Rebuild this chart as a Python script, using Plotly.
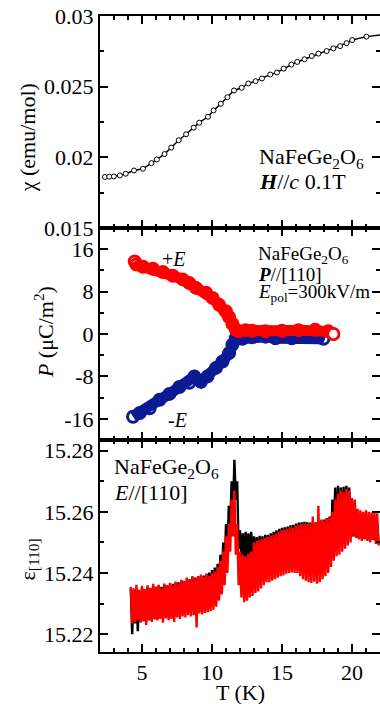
import plotly.graph_objects as go
from plotly.subplots import make_subplots

# ---------------- data ----------------
# top panel: susceptibility chi(T)
chi_T = [2.35, 2.66, 2.99, 3.42, 3.84, 4.43, 5.07, 5.67, 6.06, 6.61, 7.09, 7.62, 8.15,
         8.69, 9.09, 9.71, 10.11, 10.63, 11.10, 11.57, 12.12, 12.59, 13.11, 13.57, 14.16,
         14.64, 15.12, 15.67, 16.09, 16.61, 17.13, 17.60, 18.19, 18.67, 19.15, 19.61,
         20.01, 21.03]
chi_vals = [0.01861, 0.01863, 0.01865, 0.01872, 0.01884, 0.01907, 0.01919, 0.01959,
            0.01985, 0.02023, 0.02069, 0.02121, 0.02163, 0.02210, 0.02245, 0.02287,
            0.02332, 0.02379, 0.02426, 0.02473, 0.02492, 0.02523, 0.02539, 0.02558,
            0.02586, 0.02600, 0.02628, 0.02656, 0.02675, 0.02694, 0.02717, 0.02734,
            0.02752, 0.02771, 0.02787, 0.02808, 0.02830, 0.02854]
chi_tail_T = [21.03, 22.0]
chi_tail_vals = [0.02854, 0.02866]

# middle panel: polarization P(T)
Pplus_T = [4.48, 4.60, 5.07, 5.78, 6.49, 7.20, 7.91, 8.38, 8.86, 9.57, 10.04, 10.51,
           10.99, 11.22, 11.46, 11.70, 11.93, 12.40, 12.87, 13.82, 15.00, 16.18, 17.37,
           18.31, 18.67]
Pplus_vals = [13.7, 13.1, 12.7, 12.3, 11.7, 11.0, 10.3, 9.6, 8.7, 7.8, 6.8, 5.5, 4.3,
              3.2, 1.9, 0.8, 0.5, 0.7, 0.6, 0.5, 0.6, 0.7, 0.8, 0.5, 0.0]
Pminus_T = [4.36, 4.84, 5.55, 6.26, 6.96, 7.67, 8.38, 8.74, 9.21, 9.68, 10.28, 10.75,
            11.22, 11.46, 11.70, 12.17, 12.87, 13.82, 14.53, 15.70, 16.89, 17.60, 17.96]
Pminus_vals = [-15.6, -14.9, -14.0, -12.4, -11.3, -10.0, -9.2, -8.0, -9.0, -8.0, -6.4,
               -5.2, -3.6, -2.0, -0.8, -0.9, -0.6, -0.5, -0.8, -0.8, -0.5, -0.6, -0.9]

# bottom panel: dielectric constant eps[110](T)
eps_T = [4.2, 4.3, 4.4, 4.5, 4.6, 4.7, 4.8, 4.9,
         5.0, 5.1, 5.2, 5.3, 5.4, 5.5, 5.6, 5.7, 5.8, 5.9,
         6.0, 6.1, 6.2, 6.3, 6.4, 6.5, 6.6, 6.7, 6.8, 6.9,
         7.0, 7.1, 7.2, 7.3, 7.4, 7.5, 7.6, 7.7, 7.8, 7.9,
         8.0, 8.1, 8.2, 8.3, 8.4, 8.5, 8.6, 8.7, 8.8, 8.9,
         9.0, 9.1, 9.2, 9.3, 9.4, 9.5, 9.6, 9.7, 9.8, 9.9,
         10.0, 10.1, 10.2, 10.3, 10.4, 10.5, 10.6, 10.7, 10.8, 10.9,
         11.0, 11.1, 11.2, 11.3, 11.4, 11.5, 11.6, 11.7, 11.8, 11.9,
         12.0, 12.1, 12.2, 12.3, 12.4, 12.5, 12.6, 12.7, 12.8, 12.9,
         13.0, 13.1, 13.2, 13.3, 13.4, 13.5, 13.6, 13.7, 13.8, 13.9,
         14.0, 14.1, 14.2, 14.3, 14.4, 14.5, 14.6, 14.7, 14.8, 14.9,
         15.0, 15.1, 15.2, 15.3, 15.4, 15.5, 15.6, 15.7, 15.8, 15.9,
         16.0, 16.1, 16.2, 16.3, 16.4, 16.5, 16.6, 16.7, 16.8, 16.9,
         17.0, 17.1, 17.2, 17.3, 17.4, 17.5, 17.6, 17.7, 17.8, 17.9,
         18.0, 18.1, 18.2, 18.3, 18.4, 18.5, 18.6, 18.7, 18.8, 18.9,
         19.0, 19.1, 19.2, 19.3, 19.4, 19.5, 19.6, 19.7, 19.8, 19.9,
         20.0, 20.1, 20.2, 20.3, 20.4, 20.5, 20.6, 20.7, 20.8, 20.9,
         21.0, 21.1, 21.2, 21.3, 21.4, 21.5, 21.6, 21.7, 21.8, 21.9]
eps_black = [15.2350, 15.2200, 15.2345, 15.2235, 15.2350, 15.2210, 15.2340, 15.2240,
             15.2350, 15.2245, 15.2345, 15.2240, 15.2355, 15.2248, 15.2350, 15.2245, 15.2358, 15.2250,
             15.2355, 15.2250, 15.2360, 15.2255, 15.2355, 15.2252, 15.2362, 15.2258, 15.2360, 15.2255,
             15.2362, 15.2260, 15.2365, 15.2262, 15.2368, 15.2265, 15.2370, 15.2262, 15.2375, 15.2268,
             15.2372, 15.2270, 15.2378, 15.2272, 15.2380, 15.2275, 15.2385, 15.2275, 15.2385, 15.2278,
             15.2385, 15.2280, 15.2390, 15.2282, 15.2392, 15.2285, 15.2398, 15.2290, 15.2402, 15.2295,
             15.2410, 15.2300, 15.2418, 15.2315, 15.2430, 15.2335, 15.2460, 15.2360, 15.2500, 15.2400,
             15.2560, 15.2460, 15.2620, 15.2540, 15.2700, 15.2600, 15.2770, 15.2640, 15.2700, 15.2480,
             15.2540, 15.2440, 15.2530, 15.2430, 15.2535, 15.2440, 15.2530, 15.2445, 15.2535, 15.2450,
             15.2520, 15.2440, 15.2518, 15.2430, 15.2522, 15.2425, 15.2520, 15.2420, 15.2525, 15.2418,
             15.2525, 15.2420, 15.2530, 15.2430, 15.2535, 15.2435, 15.2540, 15.2435, 15.2545, 15.2432,
             15.2548, 15.2430, 15.2550, 15.2428, 15.2552, 15.2425, 15.2556, 15.2420, 15.2558, 15.2418,
             15.2562, 15.2420, 15.2565, 15.2425, 15.2566, 15.2430, 15.2568, 15.2435, 15.2566, 15.2440,
             15.2565, 15.2445, 15.2568, 15.2450, 15.2566, 15.2455, 15.2570, 15.2458, 15.2572, 15.2462,
             15.2575, 15.2468, 15.2580, 15.2472, 15.2585, 15.2480, 15.2640, 15.2500, 15.2680, 15.2515,
             15.2685, 15.2520, 15.2680, 15.2530, 15.2682, 15.2535, 15.2685, 15.2540, 15.2680, 15.2530,
             15.2580, 15.2520, 15.2575, 15.2515, 15.2570, 15.2512, 15.2575, 15.2515, 15.2570, 15.2512,
             15.2568, 15.2510, 15.2572, 15.2512, 15.2570, 15.2508, 15.2565, 15.2505, 15.2562, 15.2495]
eps_red = [15.2355, 15.2235, 15.2350, 15.2240, 15.2362, 15.2245, 15.2345, 15.2238,
           15.2358, 15.2242, 15.2348, 15.2230, 15.2360, 15.2245, 15.2352, 15.2240, 15.2365, 15.2248,
           15.2355, 15.2245, 15.2362, 15.2250, 15.2350, 15.2238, 15.2366, 15.2252, 15.2358, 15.2246,
           15.2368, 15.2250, 15.2360, 15.2240, 15.2372, 15.2255, 15.2365, 15.2250, 15.2378, 15.2258,
           15.2375, 15.2255, 15.2385, 15.2262, 15.2380, 15.2258, 15.2390, 15.2262, 15.2382, 15.2222,
           15.2390, 15.2268, 15.2395, 15.2265, 15.2388, 15.2270, 15.2398, 15.2272, 15.2392, 15.2275,
           15.2400, 15.2280, 15.2405, 15.2290, 15.2420, 15.2310, 15.2440, 15.2330, 15.2470, 15.2360,
           15.2520, 15.2400, 15.2560, 15.2470, 15.2640, 15.2520, 15.2670, 15.2460, 15.2560, 15.2360,
           15.2470, 15.2320, 15.2460, 15.2305, 15.2455, 15.2310, 15.2465, 15.2320, 15.2470, 15.2325,
           15.2500, 15.2335, 15.2505, 15.2340, 15.2510, 15.2350, 15.2512, 15.2360, 15.2515, 15.2370,
           15.2518, 15.2370, 15.2522, 15.2375, 15.2525, 15.2380, 15.2530, 15.2385, 15.2535, 15.2390,
           15.2540, 15.2392, 15.2542, 15.2398, 15.2545, 15.2400, 15.2550, 15.2402, 15.2548, 15.2400,
           15.2555, 15.2400, 15.2558, 15.2390, 15.2560, 15.2380, 15.2562, 15.2375, 15.2560, 15.2370,
           15.2562, 15.2368, 15.2585, 15.2372, 15.2565, 15.2365, 15.2620, 15.2370, 15.2575, 15.2380,
           15.2572, 15.2390, 15.2578, 15.2400, 15.2582, 15.2420, 15.2600, 15.2440, 15.2640, 15.2455,
           15.2660, 15.2460, 15.2670, 15.2470, 15.2665, 15.2480, 15.2675, 15.2490, 15.2670, 15.2500,
           15.2645, 15.2520, 15.2640, 15.2515, 15.2610, 15.2510, 15.2605, 15.2505, 15.2600, 15.2510,
           15.2605, 15.2505, 15.2600, 15.2500, 15.2598, 15.2510, 15.2602, 15.2495, 15.2595, 15.2490]

x_ticks = [5, 10, 15, 20]
chi_ticks = [0.015, 0.02, 0.025, 0.03]
chi_tick_text = ["0.015", "0.02", "0.025", "0.03"]
P_ticks = [-16, -8, 0, 8, 16]
P_tick_text = ["-16", "-8", "0", "8", "16"]
eps_ticks = [15.22, 15.24, 15.26, 15.28]
eps_tick_text = ["15.22", "15.24", "15.26", "15.28"]

RED = "#ff0000"
BLUE = "#0c1a96"
FONT = "Liberation Serif"

fig = make_subplots(rows=3, cols=1, shared_xaxes=True, vertical_spacing=0)

# top
fig.add_trace(go.Scatter(x=chi_tail_T, y=chi_tail_vals, mode="lines",
                         line=dict(color="black", width=1.5)), row=1, col=1)
fig.add_trace(go.Scatter(x=chi_T, y=chi_vals, mode="lines+markers",
                         line=dict(color="black", width=1.5),
                         marker=dict(symbol="circle", size=5, color="white",
                                     line=dict(color="black", width=1))), row=1, col=1)
# middle
fig.add_trace(go.Scatter(x=Pminus_T, y=Pminus_vals, mode="lines+markers",
                         line=dict(color=BLUE, width=11),
                         marker=dict(symbol="circle-open", size=11,
                                     line=dict(color=BLUE, width=3))), row=2, col=1)
fig.add_trace(go.Scatter(x=Pplus_T, y=Pplus_vals, mode="lines+markers",
                         line=dict(color=RED, width=11),
                         marker=dict(symbol="circle-open", size=11,
                                     line=dict(color=RED, width=3))), row=2, col=1)
fig.add_trace(go.Scatter(x=Pplus_T[-1:], y=Pplus_vals[-1:], mode="markers",
                         marker=dict(symbol="circle", size=11, color="white",
                                     line=dict(color=RED, width=2.5))), row=2, col=1)
# bottom
fig.add_trace(go.Scatter(x=eps_T, y=eps_black, mode="lines",
                         line=dict(color="black", width=2.4)), row=3, col=1)
fig.add_trace(go.Scatter(x=eps_T, y=eps_red, mode="lines",
                         line=dict(color=RED, width=2.4)), row=3, col=1)

axis_common = dict(showline=True, linecolor="black", linewidth=2, mirror="allticks",
                   ticks="inside", ticklen=8, tickwidth=1.5, tickcolor="black",
                   showgrid=False, zeroline=False, automargin=False,
                   tickfont=dict(family=FONT, size=22, color="black"))

for r in (1, 2, 3):
    fig.update_xaxes(range=[2, 22], tickvals=x_ticks, showticklabels=(r == 3),
                     minor=dict(ticks="inside", ticklen=4, tickwidth=1.5, dtick=1,
                                tick0=0, tickcolor="black"),
                     row=r, col=1, **axis_common)

fig.update_yaxes(range=[0.015, 0.03], tickvals=chi_ticks, ticktext=chi_tick_text,
                 minor=dict(ticks="inside", ticklen=4, tickwidth=1.5, dtick=0.0025,
                            tick0=0, tickcolor="black"),
                 row=1, col=1, **axis_common)
fig.update_yaxes(range=[-20, 20], tickvals=P_ticks, ticktext=P_tick_text,
                 minor=dict(ticks="inside", ticklen=4, tickwidth=1.5, dtick=4,
                            tick0=0, tickcolor="black"),
                 row=2, col=1, **axis_common)
fig.update_yaxes(range=[15.2142, 15.2835], tickvals=eps_ticks, ticktext=eps_tick_text,
                 minor=dict(ticks="inside", ticklen=4, tickwidth=1.5, dtick=0.01,
                            tick0=0, tickcolor="black"),
                 row=3, col=1, **axis_common)

ann = []
def A(text, x, y, xref, yref, size=22, xanchor="left", angle=0):
    ann.append(dict(text=text, x=x, y=y, xref=xref, yref=yref, showarrow=False,
                    xanchor=xanchor, yanchor="middle", textangle=angle,
                    font=dict(family=FONT, size=size, color="black")))

# axis titles
A("χ (emu/mol)", -0.26, 0.808, "paper", "paper", xanchor="center", angle=-90)
A("<i>P</i> (μC/m<sup>2</sup>)", -0.20, 0.503, "paper", "paper", xanchor="center", angle=-90)
A("ε<sub>[110]</sub>", -0.255, 0.145, "paper", "paper", xanchor="center", angle=-90)
A("T (K)", 0.5, -0.064, "paper", "paper", xanchor="center")

# panel labels
A("NaFeGe<sub>2</sub>O<sub>6</sub>", 13.2, 0.01996, "x", "y")
A("<b><i>H</i></b>//<i>c</i> 0.1T", 13.2, 0.01827, "x", "y")
A("NaFeGe<sub>2</sub>O<sub>6</sub>", 13.13, 15.0, "x2", "y2", size=19)
A("<b><i>P</i></b>//[110]", 13.13, 11.2, "x2", "y2", size=19)
A("<i>E</i><sub>pol</sub>=300kV/m", 13.13, 7.8, "x2", "y2", size=19)
A("+<i>E</i>", 7.25, 14.2, "x2", "y2", size=20, xanchor="center")
A("-<i>E</i>", 7.53, -16.2, "x2", "y2", size=20, xanchor="center")
A("NaFeGe<sub>2</sub>O<sub>6</sub>", 2.85, 15.2744, "x3", "y3")
A("<i>E</i>//[110]", 2.85, 15.2665, "x3", "y3")

fig.update_layout(width=380, height=704, margin=dict(l=100, r=0, t=16, b=52, autoexpand=False),
                  paper_bgcolor="white", plot_bgcolor="white", showlegend=False,
                  annotations=ann, font=dict(family=FONT, size=22, color="black"))

fig.write_html("out.html", config={"displayModeBar": False},
               post_script="document.body.style.margin='0';document.body.style.overflow='hidden';")
